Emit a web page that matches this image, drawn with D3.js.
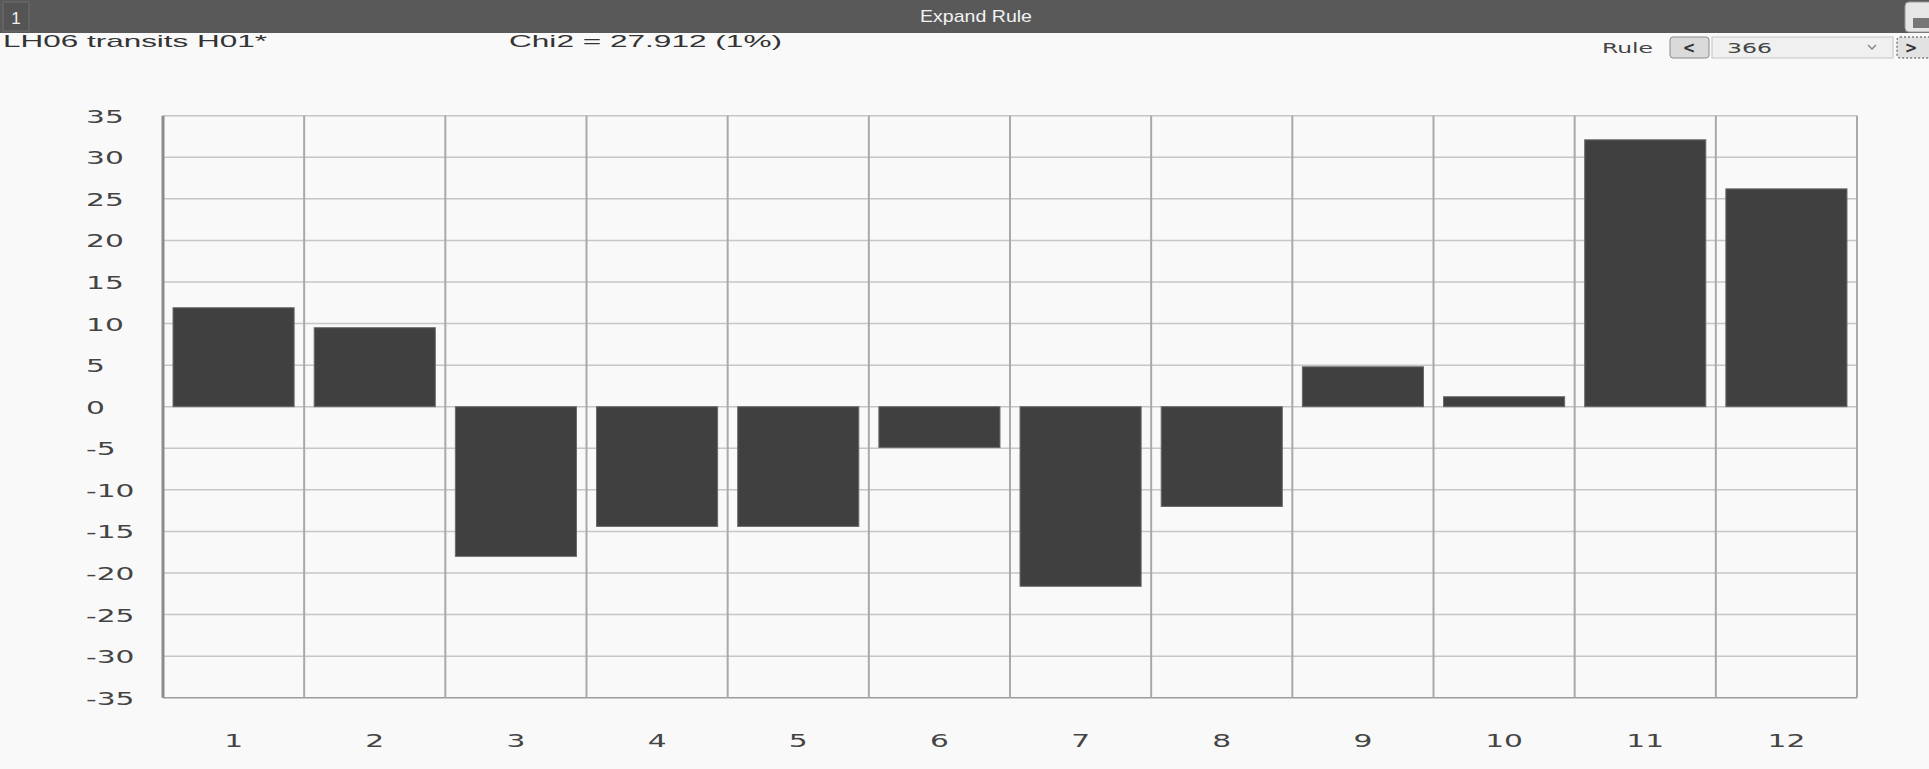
<!DOCTYPE html>
<html>
<head>
<meta charset="utf-8">
<script src="https://cdn.jsdelivr.net/npm/d3@7"></script>
<style>
  body { margin: 0; background: #f9f9f9; }
  svg { display: block; }
</style>
</head>
<body>
<svg id="chart" width="1929" height="769"></svg>
<script>
// chart data
var categories = ["1", "2", "3", "4", "5", "6", "7", "8", "9", "10", "11", "12"];
var values = [11.9, 9.5, -18.0, -14.4, -14.4, -4.9, -21.6, -12.0, 4.8, 1.2, 32.1, 26.2];
var yTicks = [35, 30, 25, 20, 15, 10, 5, 0, -5, -10, -15, -20, -25, -30, -35];
var titleText = "LH06 transits H01*";
var chiText = "Chi2 = 27.912 (1%)";
var ruleNumber = "366";

var svg = d3.select("#chart");
var W = 1929, H = 769;

svg.append("rect")
    .attr("width", W).attr("height", H)
    .attr("fill", "#f9f9f9");

// ---- header bar ----
svg.append("rect")
    .attr("x", 0).attr("y", 0)
    .attr("width", W).attr("height", 33)
    .attr("fill", "#595959");
svg.append("rect")
    .attr("x", 3).attr("y", 2)
    .attr("width", 26).attr("height", 29)
    .attr("fill", "#545454")
    .attr("stroke", "#6e6e6e");
svg.append("text")
    .attr("x", 16).attr("y", 24)
    .attr("text-anchor", "middle")
    .attr("fill", "#f0f0f0")
    .attr("font-family", "Liberation Sans, Arial, sans-serif")
    .attr("font-size", "17px")
    .text("1");
svg.append("text")
    .attr("x", 920).attr("y", 22)
    .attr("fill", "#f2f2f2")
    .attr("font-family", "Liberation Sans, Arial, sans-serif")
    .attr("font-size", "17px")
    .attr("textLength", 112)
    .attr("lengthAdjust", "spacingAndGlyphs")
    .text("Expand Rule");
// little icon at the top right, cut by the window edge
svg.append("rect")
    .attr("x", 1905).attr("y", 2)
    .attr("width", 34).attr("height", 30)
    .attr("rx", 4)
    .attr("fill", "#e6e6e6")
    .attr("stroke", "#9a9a9a");
svg.append("rect")
    .attr("x", 1913).attr("y", 18)
    .attr("width", 16).attr("height", 10)
    .attr("fill", "#777");

// ---- title row ----
svg.append("text")
    .attr("x", 3).attr("y", 47)
    .attr("fill", "#333")
    .attr("font-family", "Liberation Sans, Arial, sans-serif")
    .attr("font-size", "17px")
    .attr("textLength", 264)
    .attr("lengthAdjust", "spacingAndGlyphs")
    .text(titleText);
svg.append("text")
    .attr("x", 509).attr("y", 47)
    .attr("fill", "#333")
    .attr("font-family", "Liberation Sans, Arial, sans-serif")
    .attr("font-size", "17px")
    .attr("textLength", 273)
    .attr("lengthAdjust", "spacingAndGlyphs")
    .text(chiText);

// ---- rule selector ----
svg.append("text")
    .attr("x", 1602).attr("y", 53)
    .attr("fill", "#444")
    .attr("font-family", "DejaVu Sans, sans-serif")
    .attr("font-size", "14px")
    .attr("textLength", 51)
    .attr("lengthAdjust", "spacingAndGlyphs")
    .text("Rule");
svg.append("rect")
    .attr("x", 1670).attr("y", 37)
    .attr("width", 39).attr("height", 21)
    .attr("rx", 3)
    .attr("fill", "#dadada")
    .attr("stroke", "#8a8a8a");
svg.append("text")
    .attr("x", 1689).attr("y", 53)
    .attr("text-anchor", "middle")
    .attr("fill", "#333")
    .attr("font-family", "DejaVu Sans, sans-serif")
    .attr("font-size", "15px")
    .attr("font-weight", "bold")
    .text("<");
svg.append("rect")
    .attr("x", 1712).attr("y", 37)
    .attr("width", 181).attr("height", 21)
    .attr("fill", "#f0f0f0")
    .attr("stroke", "#c4c4c4");
svg.append("text")
    .attr("x", 1727).attr("y", 53)
    .attr("fill", "#444")
    .attr("font-family", "DejaVu Sans, sans-serif")
    .attr("font-size", "14px")
    .attr("textLength", 45)
    .attr("lengthAdjust", "spacingAndGlyphs")
    .text(ruleNumber);
svg.append("path")
    .attr("d", "M1868,45 L1872,49 L1876,45")
    .attr("fill", "none")
    .attr("stroke", "#888")
    .attr("stroke-width", 1.5);
svg.append("rect")
    .attr("x", 1897).attr("y", 37)
    .attr("width", 40).attr("height", 21)
    .attr("rx", 3)
    .attr("fill", "#e2e2e2")
    .attr("stroke", "#444")
    .attr("stroke-dasharray", "2,2");
svg.append("text")
    .attr("x", 1911).attr("y", 53)
    .attr("text-anchor", "middle")
    .attr("fill", "#333")
    .attr("font-family", "DejaVu Sans, sans-serif")
    .attr("font-size", "15px")
    .attr("font-weight", "bold")
    .text(">");

// ---- plot ----
var plotLeft = 163, plotRight = 1857, plotTop = 115.7, plotBottom = 697.7;

var x = d3.scaleBand()
    .domain(categories)
    .range([plotLeft, plotRight])
    .paddingInner(0.142)
    .paddingOuter(0.071);

var y = d3.scaleLinear()
    .domain([-35, 35])
    .range([plotBottom, plotTop]);

var step = x.step();
var gap = step * x.paddingInner() / 2;

// horizontal grid
svg.append("g").selectAll("line")
    .data(yTicks)
    .join("line")
    .attr("x1", plotLeft).attr("x2", plotRight)
    .attr("y1", function (d) { return y(d); })
    .attr("y2", function (d) { return y(d); })
    .attr("stroke", function (d) { return d == -35 ? "#9c9c9c" : "#c6c6c6"; })
    .attr("stroke-width", 1.5);

// vertical grid at the band edges
var edges = categories.map(function (c) { return x(c) - gap; });
edges.push(x(categories[categories.length - 1]) + x.bandwidth() + gap);
svg.append("g").selectAll("line")
    .data(edges)
    .join("line")
    .attr("x1", function (d) { return d; })
    .attr("x2", function (d) { return d; })
    .attr("y1", plotTop).attr("y2", plotBottom)
    .attr("stroke", function (d, i) { return i == 0 ? "#8c8c8c" : "#a9a9a9"; })
    .attr("stroke-width", function (d, i) { return i == 0 ? 3 : 2; });

// bars
svg.append("g").selectAll("rect")
    .data(values)
    .join("rect")
    .attr("x", function (d, i) { return x(categories[i]); })
    .attr("width", x.bandwidth())
    .attr("y", function (d) { return y(Math.max(0, d)); })
    .attr("height", function (d) { return Math.abs(y(d) - y(0)); })
    .attr("fill", "#404040")
    .attr("stroke", "#6a6a6a")
    .attr("stroke-width", 1);

// y axis labels
var gY = svg.append("g")
    .attr("transform", "translate(86,0)")
    .call(d3.axisLeft(y).tickValues(yTicks).tickSize(0).tickPadding(0)
        .tickFormat(function (d) { return String(d); }));
gY.select(".domain").remove();
gY.selectAll("text")
    .attr("x", 0)
    .attr("dy", "0.36em")
    .attr("text-anchor", "start")
    .attr("transform", "scale(1.65,1)")
    .attr("fill", "#444")
    .attr("font-family", "DejaVu Sans, sans-serif")
    .attr("font-size", "18px");

// x axis labels
var gX = svg.append("g")
    .attr("transform", "translate(0,747)")
    .call(d3.axisBottom(x).tickSize(0).tickPadding(0));
gX.select(".domain").remove();
gX.selectAll("text")
    .attr("y", 0)
    .attr("dy", 0)
    .attr("transform", "scale(1.65,1)")
    .attr("fill", "#444")
    .attr("font-family", "DejaVu Sans, sans-serif")
    .attr("font-size", "18px");
</script>
</body>
</html>
